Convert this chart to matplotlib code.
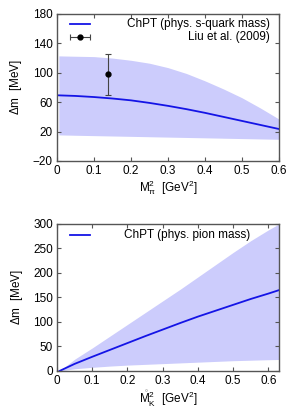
import numpy as np
import matplotlib
matplotlib.use("Agg")
import matplotlib.pyplot as plt

plt.rcParams['font.family'] = ['Liberation Sans', 'DejaVu Sans']
plt.rcParams['mathtext.fontset'] = 'custom'
plt.rcParams['mathtext.rm'] = 'Liberation Sans'
plt.rcParams['mathtext.it'] = 'Liberation Sans'

# Top panel: Delta m vs M_pi^2
x_top = [0.005, 0.05, 0.1, 0.15, 0.2, 0.25, 0.3, 0.35, 0.4, 0.45, 0.5, 0.55, 0.6]
curve_top = [69.3, 68.5, 67, 65, 62.5, 59, 55, 50.5, 45.5, 40, 34.5, 29, 23.5]
upper_top = [123, 122.5, 122, 120, 117, 113, 107, 99, 89, 78, 66, 52, 37]
lower_top = [15.5, 15, 14.5, 14, 13.5, 13, 12.5, 12, 11.5, 11, 10.5, 10, 9.5]
liu_x = [0.138]
liu_y = [98]
liu_err_lo = [28]
liu_err_hi = [27]

# Bottom panel: Delta m vs M_K^2
x_bot = [0.007, 0.05, 0.1, 0.15, 0.2, 0.25, 0.3, 0.35, 0.4, 0.45, 0.5, 0.55, 0.6, 0.63]
curve_bot = [0, 14.5, 29, 43, 57, 71, 84.5, 98, 111, 123, 135, 147, 158, 165]
upper_bot = [0, 24, 47, 71, 95, 119, 143, 167, 192, 217, 242, 266, 288, 300]
lower_bot = [0, 4.5, 7.5, 10, 12, 13.5, 15, 16.5, 18, 19.5, 21, 22, 23, 23.5]

band_color = '#ccccfc'
line_color = '#1414e6'
frame_color = '#555555'
fs = 8.5

fig = plt.figure(figsize=(3.0, 4.2), dpi=100)
ax1 = fig.add_axes([0.19, 0.6167, 0.74, 0.35])
ax2 = fig.add_axes([0.19, 0.1167, 0.74, 0.35])

def style(ax):
    for s in ax.spines.values():
        s.set_color(frame_color)
        s.set_linewidth(1.0)
    ax.tick_params(direction='in', top=True, right=True, length=3,
                   width=0.8, color=frame_color, labelsize=fs, pad=3)

# top
ax1.fill_between(x_top, lower_top, upper_top, color=band_color, lw=0)
ax1.plot(x_top, curve_top, color=line_color, lw=1.3)
ax1.errorbar(liu_x, liu_y, yerr=[liu_err_lo, liu_err_hi], fmt='o', color='black',
             ms=3.5, ecolor='#444444', elinewidth=0.8, capsize=2.5, capthick=0.8)
ax1.set_xlim(0, 0.6)
ax1.set_ylim(-20, 180)
ax1.set_xticks(np.arange(0, 0.61, 0.1))
ax1.set_xticklabels(['0', '0.1', '0.2', '0.3', '0.4', '0.5', '0.6'])
ax1.set_yticks(np.arange(-20, 181, 40))
ax1.set_xlabel(r'M$_{\pi}^{2}$  [GeV$^{2}$]', fontsize=fs, labelpad=1)
ax1.set_ylabel(r'$\Delta$m  [MeV]', fontsize=fs, labelpad=6)
style(ax1)
# legend (manual, gnuplot style)
tr = ax1.transAxes
ax1.plot([0.059, 0.149], [0.932, 0.932], transform=tr, color=line_color, lw=1.3)
ax1.text(0.959, 0.932, 'ChPT (phys. s-quark mass)', transform=tr, ha='right',
         va='center', fontsize=fs)
ax1.errorbar([0.104], [0.844], xerr=[[0.045], [0.045]], fmt='o', color='black',
             ms=3.5, ecolor='#444444', elinewidth=0.8, capsize=2.0, capthick=0.8,
             transform=tr)
ax1.text(0.959, 0.844, 'Liu et al. (2009)', transform=tr, ha='right',
         va='center', fontsize=fs)

# bottom
ax2.fill_between(x_bot, lower_bot, upper_bot, color=band_color, lw=0)
ax2.plot(x_bot, curve_bot, color=line_color, lw=1.3)
ax2.set_xlim(0, 0.63)
ax2.set_ylim(0, 300)
ax2.set_xticks(np.arange(0, 0.61, 0.1))
ax2.set_xticklabels(['0', '0.1', '0.2', '0.3', '0.4', '0.5', '0.6'])
ax2.set_yticks(np.arange(0, 301, 50))
ax2.set_xlabel(r'$\mathring{\mathrm{M}}_{K}^{2}$  [GeV$^{2}$]', fontsize=fs, labelpad=1)
ax2.set_ylabel(r'$\Delta$m  [MeV]', fontsize=fs, labelpad=6)
style(ax2)
tr2 = ax2.transAxes
ax2.plot([0.059, 0.149], [0.925, 0.925], transform=tr2, color=line_color, lw=1.3)
ax2.text(0.869, 0.925, 'ChPT (phys. pion mass)', transform=tr2, ha='right',
         va='center', fontsize=fs)

fig.savefig('out.png', dpi=100)
